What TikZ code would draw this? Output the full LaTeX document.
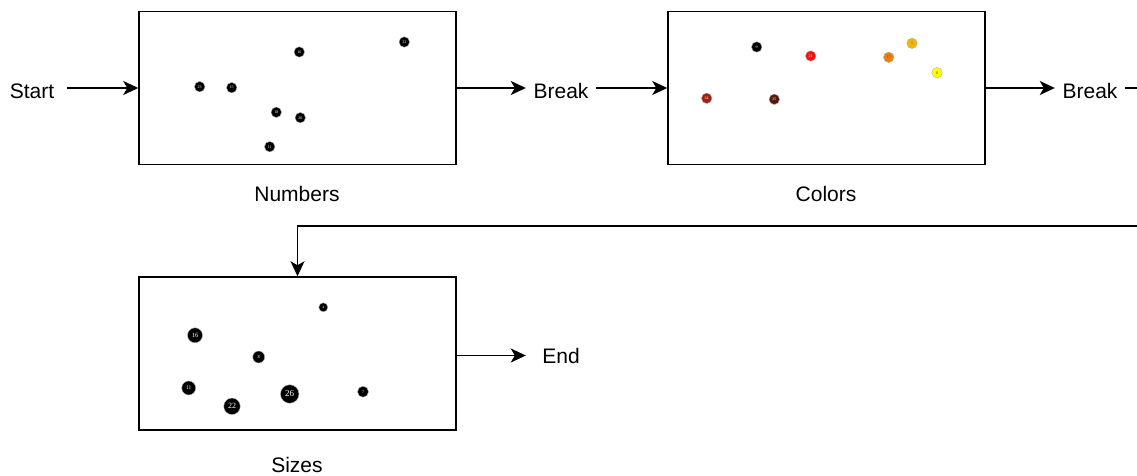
\documentclass[tikz,border=0pt]{standalone}
\usepackage{fontspec}
\setmainfont{Liberation Sans}
\newfontfamily\ballfont{Liberation Serif}
\usetikzlibrary{arrows.meta}

\definecolor{ballred}{HTML}{F21212}
\definecolor{ballorange}{HTML}{EE7E0E}
\definecolor{ballamber}{HTML}{F4B400}
\definecolor{ballyellow}{HTML}{FFFF00}
\definecolor{ballrust}{HTML}{A11E10}
\definecolor{ballbrown}{HTML}{55180A}

\tikzset{
  ball/.style={circle,fill=black,draw=gray!60,line width=0.4pt,inner sep=0pt,
    minimum size=10.5pt,text=white,font=\ballfont\fontsize{4}{4}\selectfont},
  flow/.style={line width=1.6pt,-{Stealth[length=15pt,width=14pt,inset=4pt]}}
}

\begin{document}
\begin{tikzpicture}[x=1pt,y=-1pt]
  \useasboundingbox (0,0) rectangle (1137,476);

  % the three panels and their captions
  \begin{scope}[every node/.style={draw,line width=1.5pt,minimum width=317pt,minimum height=153pt,inner sep=0pt}]
  \node (nums) at (297.5,88) {};
  \node (cols) at (826.5,88) {};
  \node (sizes) at (297.5,353.5) {};
  \end{scope}
  \begin{scope}[every node/.style={font=\fontsize{21}{25}\selectfont}]
  \node (numscap) at (297,194) {Numbers};
  \node (colscap) at (826,194) {Colors};
  \node (sizescap) at (297,465) {Sizes};
  \end{scope}

  % terminals
  \begin{scope}[every node/.style={minimum width=70pt,inner sep=0pt,font=\fontsize{21}{25}\selectfont}]
  \node (start) at (32,91) {Start};
  \node (brk1) at (561,91) {Break};
  \node (brk2) at (1090,91) {Break};
  \node (end) at (561,355.5) {End};
  \end{scope}

  % balls labelled by number
  \node[ball] (n23) at (199.7,86.7) {23};
  \node[ball] (n15) at (231.7,87.7) {15};
  \node[ball] (n16) at (299.3,52) {16};
  \node[ball] (n22) at (404.3,42) {22};
  \node[ball] (n18) at (276.3,112.3) {18};
  \node[ball] (n20) at (300.3,117.7) {20};
  \node[ball] (n11) at (269.7,146.7) {11};

  % balls by colour
  \node[ball] (c9) at (756.7,47) {9};
  \node[ball,fill=ballred] (c21) at (810.7,56) {21};
  \node[ball,fill=ballorange,text=black!70] (c17) at (888.7,57.3) {17};
  \node[ball,fill=ballamber,text=black!70] (c1) at (912,43.3) {1};
  \node[ball,fill=ballyellow,text=black!70] (c8) at (937,72.7) {8};
  \node[ball,fill=ballrust] (c24) at (706.7,98.3) {24};
  \node[ball,fill=ballbrown] (c25) at (774.3,99.3) {25};

  % balls by size
  \node[ball,minimum size=9pt,font=\ballfont\fontsize{3.5}{4}\selectfont] (s4) at (323.3,307.3) {4};
  \node[ball,minimum size=15pt,font=\ballfont\fontsize{6.5}{7}\selectfont] (s16) at (195,335.3) {16};
  \node[ball,minimum size=12pt,font=\ballfont\fontsize{4.5}{5}\selectfont] (s8) at (258.7,357) {8};
  \node[ball,minimum size=14pt,font=\ballfont\fontsize{5.5}{6}\selectfont] (s11) at (188.7,388) {11};
  \node[ball,minimum size=16.5pt,font=\ballfont\fontsize{8}{9}\selectfont] (s22) at (232,406.3) {22};
  \node[ball,minimum size=18.5pt,font=\ballfont\fontsize{9}{10}\selectfont] (s26) at (289.7,394) {26};
  \node[ball,minimum size=11pt,font=\ballfont\fontsize{4}{5}\selectfont] (s7) at (363,391.7) {7};

  % flow between the steps
  \coordinate (turn) at (1150,226);
  \draw[flow] (nums.west -| start.east) -- (nums.west);
  \draw[flow] (nums.east) -- (nums.east -| brk1.west);
  \draw[flow] (cols.west -| brk1.east) -- (cols.west);
  \draw[flow] (cols.east) -- (cols.east -| brk2.west);
  \draw[flow] (cols.east -| brk2.east) -| (turn) -| (sizes.north);
  \draw[flow] (end.west -| sizes.east) -- (end.west);
\end{tikzpicture}
\end{document}
